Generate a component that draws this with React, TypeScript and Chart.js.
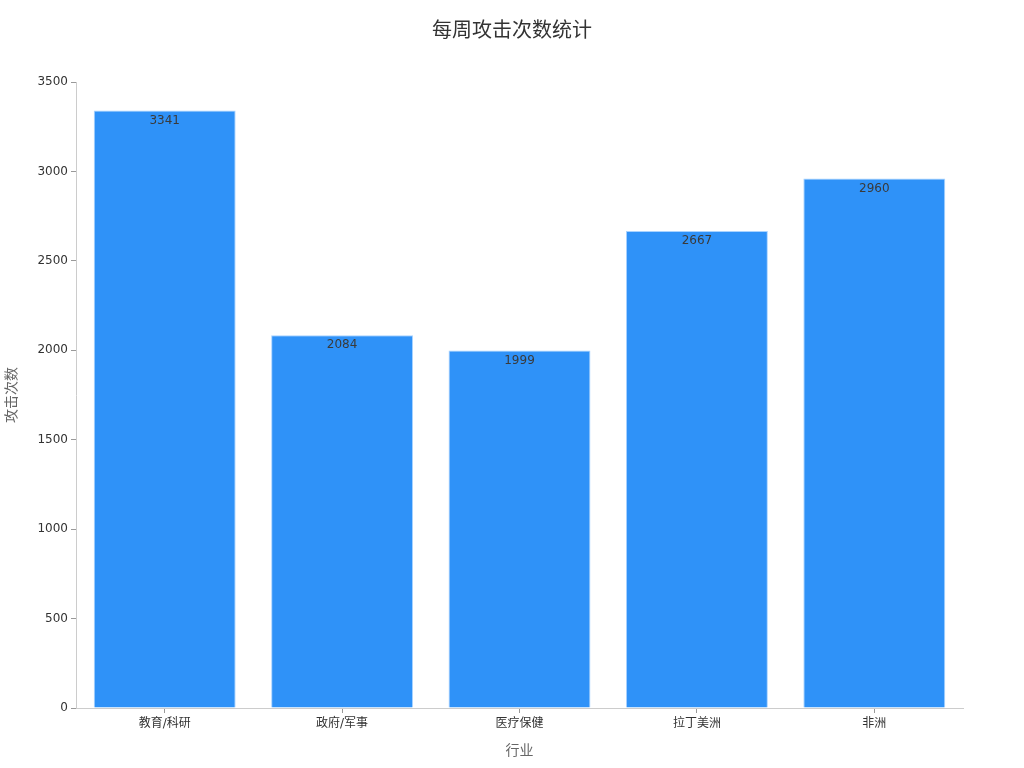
import { useEffect, useRef } from 'react';
import { Chart, registerables } from 'chart.js';

Chart.register(...registerables);

const CATEGORIES = ['教育/科研', '政府/军事', '医疗保健', '拉丁美洲', '非洲'];
const ATTACKS = [3341, 2084, 1999, 2667, 2960];
const Y_MAX = 3500;
const Y_STEP = 500;

const FONT = "'DejaVu Sans', 'Noto Sans CJK SC', sans-serif";

// value text inside the top of each bar
const valueLabels = {
  id: 'valueLabels',
  afterDatasetsDraw(chart: Chart) {
    const ctx = chart.ctx;
    const meta = chart.getDatasetMeta(0);
    ctx.save();
    ctx.font = `12px ${FONT}`;
    ctx.fillStyle = '#3a3a3a';
    ctx.textAlign = 'center';
    ctx.textBaseline = 'middle';
    meta.data.forEach((bar: any, i: number) => {
      ctx.fillText(String(ATTACKS[i]), bar.x, bar.y + 10);
    });
    ctx.restore();
  },
};

// title centred on the whole canvas, not the plot
const canvasTitle = {
  id: 'canvasTitle',
  afterDraw(chart: Chart) {
    const ctx = chart.ctx;
    ctx.save();
    ctx.font = `20px ${FONT}`;
    ctx.fillStyle = '#333333';
    ctx.textAlign = 'center';
    ctx.textBaseline = 'middle';
    ctx.fillText('每周攻击次数统计', chart.width / 2, 32);
    ctx.restore();
  },
};

export default function App() {
  const canvasRef = useRef<HTMLCanvasElement>(null);

  useEffect(() => {
    if (!canvasRef.current) return;
    const chart = new Chart(canvasRef.current, {
      type: 'bar',
      data: {
        labels: CATEGORIES,
        datasets: [
          {
            data: ATTACKS,
            backgroundColor: '#2f92f8',
            borderColor: '#a9d3ff',
            borderWidth: 1,
            barPercentage: 0.8,
            categoryPercentage: 1,
          },
        ],
      },
      options: {
        responsive: false,
        animation: false,
        layout: { padding: { left: 0, right: 61, top: 82, bottom: 0 } },
        plugins: {
          legend: { display: false },
          tooltip: { enabled: false },
        },
        scales: {
          x: {
            grid: { drawOnChartArea: false, drawTicks: true, tickLength: 5, color: '#999999', offset: false },
            border: { color: '#cccccc' },
            ticks: { color: '#333333', font: { family: FONT, size: 12 }, padding: 4 },
            title: {
              display: true,
              text: '行业',
              color: '#666666',
              font: { family: FONT, size: 14 },
              padding: { top: 2, bottom: 8 },
            },
            afterFit(scale: any) {
              scale.height = 60;
            },
          },
          y: {
            min: 0,
            max: Y_MAX,
            grid: { drawOnChartArea: false, drawTicks: true, tickLength: 5, color: '#999999' },
            border: { color: '#cccccc' },
            ticks: {
              stepSize: Y_STEP,
              color: '#333333',
              font: { family: FONT, size: 12 },
              padding: 3,
              callback: (v: any) => String(v),
            },
            title: {
              display: true,
              text: '攻击次数',
              color: '#666666',
              font: { family: FONT, size: 14 },
              padding: { bottom: 4 },
            },
            afterFit(scale: any) {
              scale.width = 76;
            },
          },
        },
      },
      plugins: [valueLabels, canvasTitle],
    });
    return () => chart.destroy();
  }, []);

  return (
    <div style={{ position: 'absolute', left: 0, top: 0, width: 1024, height: 768, background: '#ffffff' }}>
      <canvas ref={canvasRef} width={1024} height={768} />
    </div>
  );
}
